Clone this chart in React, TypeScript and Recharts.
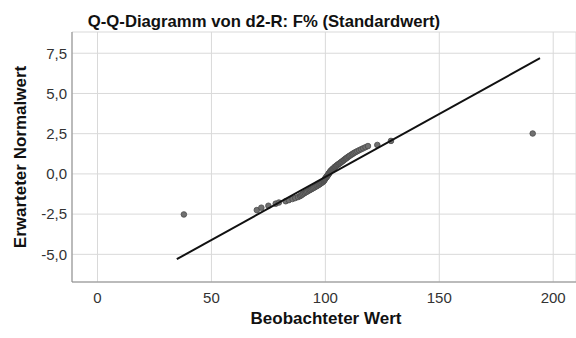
import { CartesianGrid, Label, Scatter, ScatterChart, XAxis, YAxis } from "recharts";

const FONT = "'Liberation Sans', Arial, sans-serif";

const observed = [
  37.9, 69.9, 71.9, 75.0, 78.2, 79.6, 82.6, 84.0, 85.6, 86.8, 88.0, 88.9, 89.4, 89.9,
  90.4, 91.0, 91.6, 92.1, 92.7, 93.2, 93.7, 94.2, 94.7, 95.2, 95.7, 96.2, 96.6, 97.1,
  97.4, 97.8, 98.1, 98.5, 98.8, 99.1, 99.3, 99.4, 99.6, 99.8, 99.9, 100.0, 100.2,
  100.4, 100.6, 100.7, 100.9, 101.0, 101.2, 101.3, 101.5, 101.6, 101.8, 101.9, 102.1,
  102.2, 102.4, 102.6, 102.9, 103.1, 103.3, 103.6, 103.9, 104.1, 104.3, 104.7, 105.0,
  105.3, 105.6, 106.0, 106.3, 106.7, 107.0, 107.4, 107.8, 108.1, 108.5, 108.9, 109.2,
  109.6, 110.1, 110.5, 111.0, 111.6, 112.1, 112.7, 113.3, 114.0, 114.8, 115.7, 116.6,
  117.6, 118.7, 122.8, 128.8, 191.0,
];
const expected = [
  -2.52, -2.25, -2.1, -1.98, -1.85, -1.78, -1.7, -1.63, -1.56, -1.5, -1.44, -1.38, -1.33,
  -1.28, -1.23, -1.18, -1.13, -1.09, -1.04, -1.0, -0.96, -0.92, -0.88, -0.84, -0.8,
  -0.76, -0.72, -0.68, -0.65, -0.61, -0.58, -0.54, -0.51, -0.47, -0.44, -0.41, -0.37,
  -0.34, -0.31, -0.28, -0.24, -0.21, -0.18, -0.15, -0.12, -0.09, -0.06, -0.03, 0.01,
  0.04, 0.07, 0.1, 0.13, 0.16, 0.19, 0.22, 0.26, 0.29, 0.32, 0.35, 0.39, 0.42, 0.45,
  0.49, 0.52, 0.56, 0.59, 0.63, 0.66, 0.7, 0.74, 0.78, 0.82, 0.86, 0.9, 0.94, 0.98,
  1.02, 1.07, 1.11, 1.16, 1.21, 1.26, 1.31, 1.36, 1.41, 1.47, 1.53, 1.59, 1.66, 1.73,
  1.8, 2.05, 2.51,
];

// Referenzgerade (Endpunkte)
const lineX = [34.8, 194.2];
const lineY = [-5.3, 7.19];

const xTicks = [0, 50, 100, 150, 200];
const yTicks = [-5, -2.5, 0, 2.5, 5, 7.5];

const points = observed.map((x, i) => ({ x, y: expected[i] }));
const refLine = lineX.map((x, i) => ({ x, y: lineY[i] }));

const fmt = (v: number) => v.toFixed(1).replace(".", ",");

function Dot(props: any) {
  const { cx, cy } = props;
  if (cx == null || cy == null) return null;
  return <circle cx={cx} cy={cy} r={2.8} fill="#707070" stroke="#4a4a4a" strokeWidth={0.8} />;
}

const tickStyle = { fill: "#333", fontSize: 15, fontFamily: FONT };

export default function App() {
  return (
    <div style={{ position: "relative", width: 576, height: 338, fontFamily: FONT }}>
      <style>{"body{margin:0}"}</style>
      <div
        style={{
          position: "absolute",
          left: 0,
          width: 528,
          top: 12,
          textAlign: "center",
          fontSize: 16.7,
          fontWeight: "bold",
          color: "#111",
          lineHeight: "19px",
        }}
      >
        Q-Q-Diagramm von d2-R: F% (Standardwert)
      </div>
      <ScatterChart width={576} height={338} margin={{ top: 32, right: 0, bottom: 0, left: 0 }}>
        <CartesianGrid stroke="#d9d9d9" strokeWidth={1} />
        <XAxis
          type="number"
          dataKey="x"
          domain={[-11.2, 210]}
          ticks={xTicks}
          allowDataOverflow
          height={56}
          tickLine={false}
          tickSize={6}
          tickMargin={4}
          axisLine={{ stroke: "#8a8a8a" }}
          tick={tickStyle}
        >
          <Label
            content={(p: any) => {
              const vb = p.viewBox;
              return (
                <text
                  x={vb.x + vb.width / 2 + 2}
                  y={vb.y + 42}
                  textAnchor="middle"
                  fontFamily={FONT}
                  fontWeight="bold"
                  fontSize={17}
                  fill="#111"
                >
                  Beobachteter Wert
                </text>
              );
            }}
          />
        </XAxis>
        <YAxis
          type="number"
          dataKey="y"
          domain={[-6.72, 8.82]}
          ticks={yTicks}
          allowDataOverflow
          width={72}
          tickLine={false}
          tickSize={3}
          tickMargin={2}
          axisLine={{ stroke: "#8a8a8a" }}
          tick={tickStyle}
          tickFormatter={fmt}
        >
          <Label
            content={(p: any) => {
              const vb = p.viewBox;
              const cy = vb.y + vb.height / 2;
              return (
                <text
                  x={26}
                  y={cy}
                  textAnchor="middle"
                  transform={`rotate(-90, 26, ${cy})`}
                  fontFamily={FONT}
                  fontWeight="bold"
                  fontSize={17}
                  fill="#111"
                >
                  Erwarteter Normalwert
                </text>
              );
            }}
          />
        </YAxis>
        <Scatter data={points} shape={<Dot />} isAnimationActive={false} />
        <Scatter
          data={refLine}
          line={{ stroke: "#111", strokeWidth: 2 }}
          shape={() => <g />}
          isAnimationActive={false}
        />
      </ScatterChart>
    </div>
  );
}
